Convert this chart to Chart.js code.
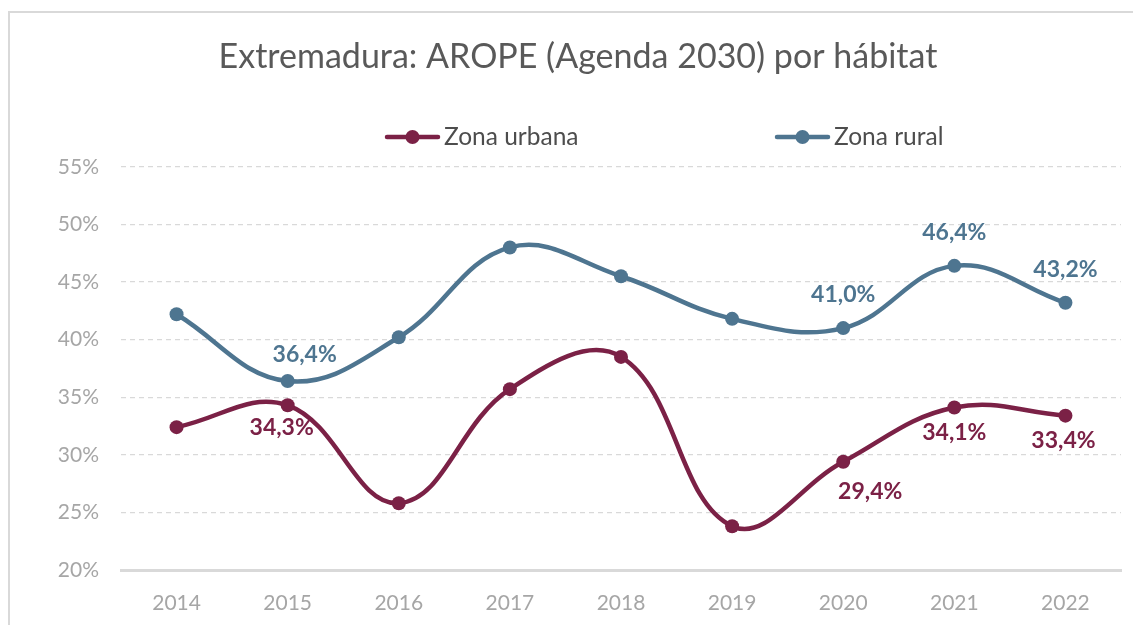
<!DOCTYPE html>
<html>
<head>
<meta charset="utf-8">
<script src="https://cdn.jsdelivr.net/npm/chart.js@4.4.1/dist/chart.umd.min.js"></script>
<style>
html, body { margin: 0; padding: 0; background: #fff; overflow: hidden; }
#marco { position: absolute; left: 8px; top: 11px; width: 1200px; height: 700px;
         border-left: 2px solid #d9d9d9; border-top: 2px solid #d9d9d9; }
#myChart { position: absolute; left: 0; top: 0; }
</style>
</head>
<body>
<div id="marco"></div>
<canvas id="myChart" width="1133" height="625"></canvas>
<script>
// datos
const anos = ['2014', '2015', '2016', '2017', '2018', '2019', '2020', '2021', '2022'];
const zonaUrbana = [32.4, 34.3, 25.8, 35.7, 38.5, 23.8, 29.4, 34.1, 33.4];
const zonaRural = [42.2, 36.4, 40.2, 48.0, 45.5, 41.8, 41.0, 46.4, 43.2];
const ticksY = [20, 25, 30, 35, 40, 45, 50, 55];

const colorUrbana = '#7b2146';
const colorRural = '#4e7590';

// etiquetas visibles: indice -> desplazamiento [dx, dy] respecto al punto
const etiquetasUrbana = { 1: [-6, 22], 6: [27, 30], 7: [0, 25], 8: [-2, 25] };
const etiquetasRural = { 1: [17, -26], 6: [0, -34], 7: [0, -33], 8: [0, -33] };

const fmt = v => v.toFixed(1).replace('.', ',') + '%';

const pluginEtiquetas = {
    id: 'etiquetas',
    afterDatasetsDraw(chart) {
        const ctx = chart.ctx;
        const conjuntos = [etiquetasUrbana, etiquetasRural];
        ctx.save();
        ctx.font = 'bold 23px Lato';
        ctx.textAlign = 'center';
        ctx.textBaseline = 'middle';
        chart.data.datasets.forEach((ds, i) => {
            const meta = chart.getDatasetMeta(i);
            ctx.fillStyle = ds.borderColor;
            Object.keys(conjuntos[i]).forEach(k => {
                const el = meta.data[k];
                const d = conjuntos[i][k];
                ctx.fillText(fmt(ds.data[k]), el.x + d[0], el.y + d[1]);
            });
        });
        ctx.restore();
    }
};

// leyenda con linea + marcador, como en Excel
const leyendaX = [385, 775];
const pluginLeyenda = {
    id: 'leyendaLinea',
    afterDraw(chart) {
        const ctx = chart.ctx;
        const y = 137;
        ctx.save();
        chart.data.datasets.forEach((ds, i) => {
            const x = leyendaX[i];
            ctx.strokeStyle = ds.borderColor;
            ctx.lineWidth = 4.5;
            ctx.lineCap = 'round';
            ctx.beginPath();
            ctx.moveTo(x + 2, y);
            ctx.lineTo(x + 53, y);
            ctx.stroke();
            ctx.fillStyle = ds.borderColor;
            ctx.beginPath();
            ctx.arc(x + 27.5, y, 7, 0, Math.PI * 2);
            ctx.fill();
            ctx.fillStyle = '#4d4d4d';
            ctx.font = '24.5px Lato';
            ctx.textAlign = 'left';
            ctx.textBaseline = 'middle';
            ctx.fillText(ds.label, x + 59, y);
        });
        ctx.restore();
    }
};

const ctx = document.getElementById('myChart').getContext('2d');
const myChart = new Chart(ctx, {
    type: 'line',
    data: {
        labels: anos,
        datasets: [{
            label: 'Zona urbana',
            data: zonaUrbana,
            borderColor: colorUrbana,
            backgroundColor: colorUrbana,
            pointBackgroundColor: colorUrbana,
            borderWidth: 4.5,
            pointRadius: 7,
            pointBorderWidth: 0,
            tension: 0.4
        }, {
            label: 'Zona rural',
            data: zonaRural,
            borderColor: colorRural,
            backgroundColor: colorRural,
            pointBackgroundColor: colorRural,
            borderWidth: 4.5,
            pointRadius: 7,
            pointBorderWidth: 0,
            tension: 0.4
        }]
    },
    options: {
        responsive: false,
        animation: false,
        layout: { padding: { left: 35, right: 12, top: 0, bottom: 0 } },
        plugins: {
            legend: { display: false },
            tooltip: { enabled: false },
            title: {
                display: true,
                text: 'Extremadura: AROPE (Agenda 2030) por hábitat',
                color: '#595959',
                font: { family: 'Lato', size: 34, weight: '400', lineHeight: 1.2 },
                padding: { top: 37, bottom: 89 }
            }
        },
        scales: {
            x: {
                offset: true,
                afterFit: s => { s.height = 55; },
                grid: { display: false },
                border: { display: true, color: '#d9d9d9', width: 3 },
                ticks: {
                    color: '#a6a6a6',
                    padding: 13,
                    font: { family: 'Lato', size: 21 }
                }
            },
            y: {
                min: 20,
                max: 55,
                afterFit: s => { s.width = 86; },
                afterBuildTicks: s => { s.ticks = ticksY.map(v => ({ value: v })); },
                grid: { color: '#d9d9d9', lineWidth: 1.3, drawTicks: false },
                border: { display: false, dash: [5, 4] },
                ticks: {
                    color: '#a6a6a6',
                    padding: 22,
                    font: { family: 'Lato', size: 21 },
                    callback: v => v + '%'
                }
            }
        }
    },
    plugins: [pluginEtiquetas, pluginLeyenda]
});
</script>
</body>
</html>
